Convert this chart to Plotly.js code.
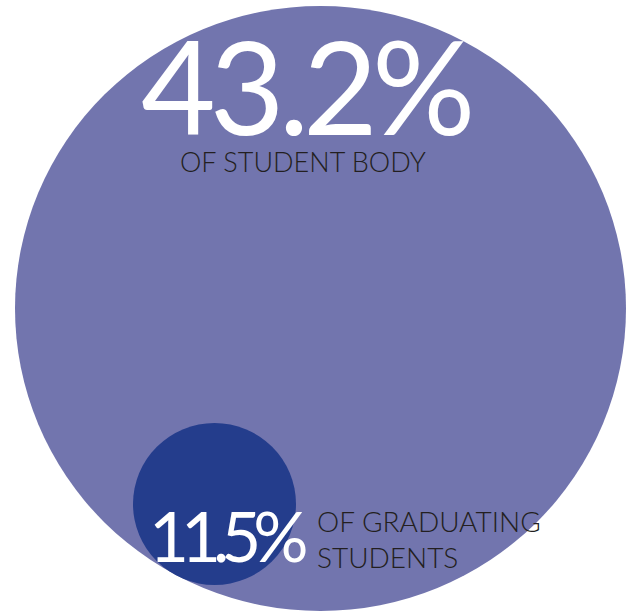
<!DOCTYPE html>
<html>
<head>
<meta charset="utf-8">
<script src="https://cdn.plot.ly/plotly-3.0.1.min.js"></script>
<style>html,body{margin:0;padding:0;background:#fff;}#chart{width:627px;height:613px;}</style>
</head>
<body>
<div id="chart"></div>
<script>
var values = [43.2, 11.5];
var labels = ["OF STUDENT BODY", "OF GRADUATING<br>STUDENTS"];
var colors = ["#7275ae", "#243d8c"];

var fmt = function(v, ls){ return '<span style="letter-spacing:' + ls + 'px">' + v.toFixed(1) + '%</span>'; };

var layout = {
  width: 627, height: 613,
  margin: {l:0, r:0, t:0, b:0},
  paper_bgcolor: "#ffffff", plot_bgcolor: "#ffffff",
  xaxis: {range: [0, 627], visible: false, fixedrange: true},
  yaxis: {range: [613, 0], visible: false, fixedrange: true},
  showlegend: false,
  shapes: [
    {type: "circle", xref: "x", yref: "y", x0: 15, x1: 626, y0: 6, y1: 611,
     fillcolor: colors[0], line: {width: 0}, layer: "below"},
    {type: "circle", xref: "x", yref: "y", x0: 133, x1: 296, y0: 423, y1: 585,
     fillcolor: colors[1], line: {width: 0}, layer: "below"}
  ],
  annotations: [
    {x: 139, y: 85, xref: "x", yref: "y", text: fmt(values[0], -6), showarrow: false,
     xanchor: "left", yanchor: "middle",
     font: {family: "Lato", size: 129, color: "#ffffff"}},
    {x: 303, y: 161, xref: "x", yref: "y", text: labels[0], showarrow: false,
     xanchor: "center", yanchor: "middle",
     font: {family: "Lato", size: 27, color: "#231f20", weight: 300}},
    {x: 147, y: 535, xref: "x", yref: "y", text: fmt(values[1], -8), showarrow: false,
     xanchor: "left", yanchor: "middle",
     font: {family: "Lato", size: 69, color: "#ffffff"}},
    {x: 315, y: 539, xref: "x", yref: "y", text: labels[1], showarrow: false,
     xanchor: "left", yanchor: "middle", align: "left",
     font: {family: "Lato", size: 28, color: "#231f20", weight: 300}}
  ]
};

Plotly.newPlot("chart", [{x: [], y: [], type: "scatter", hoverinfo: "skip"}], layout, {displayModeBar: false, staticPlot: true});
</script>
</body>
</html>
